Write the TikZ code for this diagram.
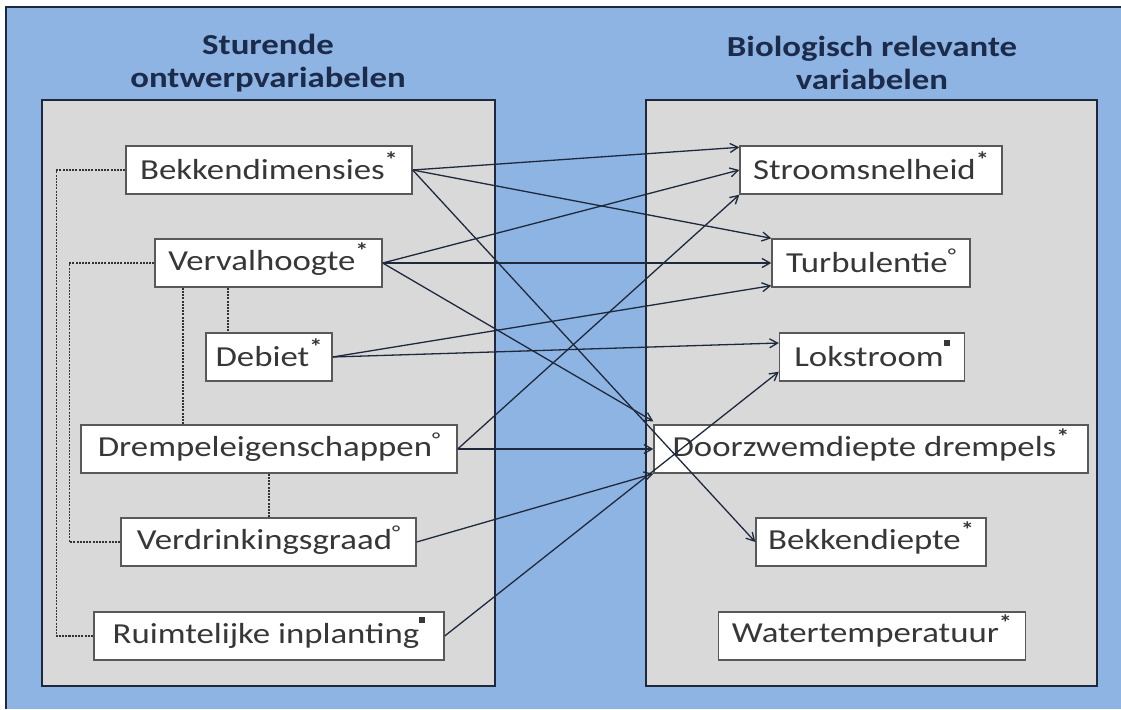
\documentclass[tikz,border=0pt]{standalone}
\usepackage{fontspec}
\setmainfont{Carlito}[FakeStretch=1.2]
\usetikzlibrary{arrows.meta}
\definecolor{achtergrond}{RGB}{141,180,226}
\definecolor{paneel}{RGB}{217,217,217}
\definecolor{rand}{RGB}{31,41,61}
\definecolor{titel}{RGB}{28,43,74}
\definecolor{tekst}{RGB}{55,55,55}
\newcommand{\stermark}{\smash{\raisebox{12pt}{\fontsize{22}{22}\selectfont\bfseries *}}}
\newcommand{\rondmark}{\smash{\raisebox{10pt}{\fontsize{20}{20}\selectfont °}}}
\newcommand{\vkmark}{\smash{\raisebox{21pt}{\rule{6pt}{6pt}}}}

\tikzset{
	vak/.style={draw=black!65, line width=1.4pt, fill=white, minimum height=48pt, inner sep=0pt, text=tekst, font=\fontsize{29}{34}\selectfont},
	titeltekst/.style={align=center, text=titel, font=\fontsize{29}{33}\selectfont\bfseries},
	pijl/.style={draw=rand, line width=1.3pt, -{Straight Barb[length=8pt,width=9pt]}},
	stippel/.style={draw=black!80, line width=1.6pt, dash pattern=on 2pt off 1.2pt}
}

\begin{document}
\begin{tikzpicture}[x=1pt,y=-1pt]
	\useasboundingbox (0,0) rectangle (1121,709);
	\fill[white] (0,0) rectangle (1121,709);
	\fill[achtergrond] (6,7) rectangle (1121,709);
	\draw[rand, line width=2pt] (6,709) -- (6,7) -- (1121,7);

	\filldraw[fill=paneel, draw=rand, line width=2.5pt] (42,100) rectangle (495,686);
	\filldraw[fill=paneel, draw=rand, line width=2.5pt] (646,100) rectangle (1097,686);

	\node[titeltekst] (titellinks) at (268,63) {Sturende\\ontwerpvariabelen};
	\node[titeltekst] (titelrechts) at (872,63) {Biologisch relevante\\variabelen};

	\node[vak, minimum width=286pt] (bekk) at (269,170) {Bekkendimensies\stermark};
	\node[vak, minimum width=227pt] (verval) at (268.5,263) {Vervalhoogte\stermark};
	\node[vak, minimum width=126pt] (debiet) at (269,357) {Debiet\stermark};
	\node[vak, minimum width=376pt] (drempel) at (269,449) {Drempeleigenschappen\rondmark};
	\node[vak, minimum width=295pt] (verdr) at (268.5,542) {Verdrinkingsgraad\rondmark};
	\node[vak, minimum width=350pt] (ruimt) at (269,636) {Ruimtelijke inplanting\vkmark};

	\node[vak, minimum width=262pt] (stroom) at (871,170) {Stroomsnelheid\stermark};
	\node[vak, minimum width=198pt] (turb) at (871,263) {Turbulentie\rondmark};
	\node[vak, minimum width=185pt] (lok) at (872,357) {Lokstroom\vkmark};
	\node[vak, minimum width=434pt] (doorz) at (871,449) {Doorzwemdiepte drempels\stermark};
	\node[vak, minimum width=230pt] (bekkd) at (871,542) {Bekkendiepte\stermark};
	\node[vak, minimum width=307pt] (water) at (872,636) {Watertemperatuur\stermark};

	\draw[stippel] (bekk.west) -| ([xshift=-37pt]ruimt.west) -- (ruimt.west);
	\draw[stippel] (verval.west) -| ([xshift=-51pt]verdr.west) -- (verdr.west);
	\draw[stippel] ([xshift=-85.5pt]verval.south) -- ([xshift=-85.5pt]verval.south |- drempel.north);
	\draw[stippel] ([xshift=-40.5pt]verval.south) -- ([xshift=-40.5pt]verval.south |- debiet.north);
	\draw[stippel] (drempel.south) -- (drempel.south |- verdr.north);

	\draw[pijl] (bekk.east) -- ([yshift=-2pt]stroom.north west);
	\draw[pijl] (bekk.east) -- (turb.north west);
	\draw[pijl] (bekk.east) -- (bekkd.west);
	\draw[pijl] (verval.east) -- (stroom.west);
	\draw[pijl] (verval.east) -- (turb.west);
	\draw[pijl] (verval.east) -- ([yshift=3pt]doorz.north west);
	\draw[pijl] (debiet.east) -- ([yshift=2pt]turb.south west);
	\draw[pijl] (debiet.east) -- ([yshift=14pt]lok.west);
	\draw[pijl] (drempel.east) -- (stroom.south west);
	\draw[pijl] (drempel.east) -- (doorz.west);
	\draw[pijl] (verdr.east) -- (doorz.south west);
	\draw[pijl] (ruimt.east) -- ([yshift=10pt]lok.south west);
\end{tikzpicture}
\end{document}
